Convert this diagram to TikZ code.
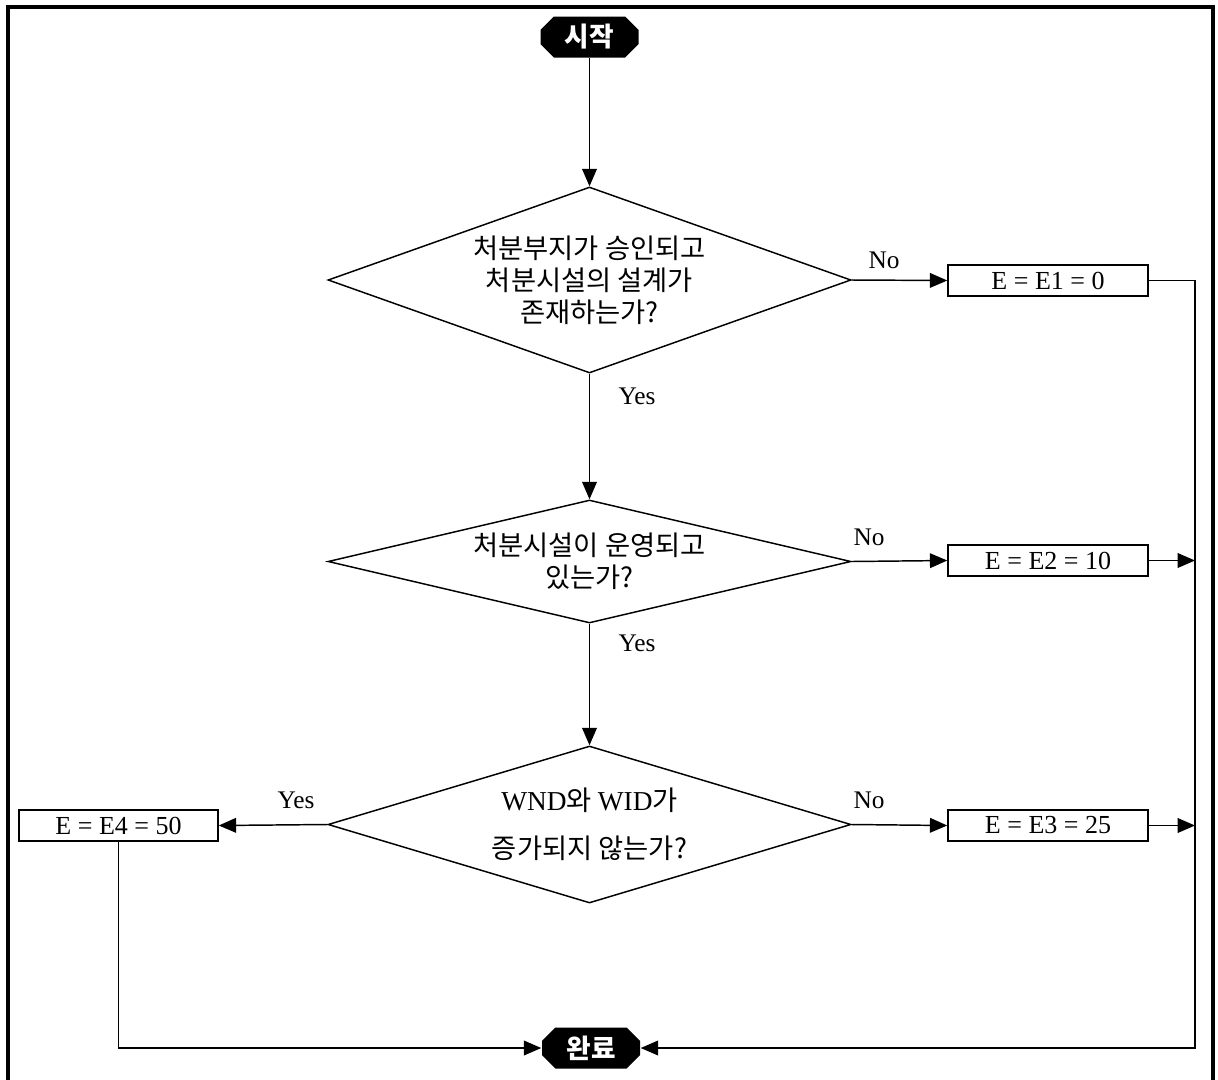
\documentclass[tikz,border=0pt]{standalone}
\usepackage{fontspec}
\setmainfont{Liberation Serif}
\newfontfamily\kr{Noto Sans CJK KR}
\usetikzlibrary{shapes.geometric,shapes.misc,arrows.meta}
\begin{document}
\begin{tikzpicture}[x=0.75pt,y=-0.75pt,
  line width=1.1pt,
  conn/.style={-{Triangle[length=13pt,width=11pt]}},
  decide/.style={diamond,draw,inner sep=0pt,minimum width=523*0.75pt,align=center,
    font=\kr\fontsize{20.5}{24}\selectfont},
  endpt/.style={chamfered rectangle,chamfered rectangle xsep=7pt,fill=black,text=white,
    font=\kr\bfseries\fontsize{20}{22}\selectfont,minimum width=98*0.75pt,minimum height=41*0.75pt,inner sep=0pt},
  valbox/.style={rectangle,draw,minimum width=200*0.75pt,minimum height=31*0.75pt,inner sep=0pt,
    font=\fontsize{19.5}{22}\selectfont},
  lbl/.style={font=\fontsize{19}{22}\selectfont,inner sep=0pt}
]
\useasboundingbox (0,0) rectangle (1218,1079);
\draw[line width=2.4pt] (8,1085) -- (8,7) -- (1213,7) -- (1213,1085);

\node[endpt] (start) at (589.5,37) {시작};
\node[decide,minimum height=186*0.75pt,aspect=2.81] (d1) at (589.5,280)
  {처분부지가 승인되고\\처분시설의 설계가\\존재하는가?};
\node[decide,minimum height=123*0.75pt,aspect=4.25] (d2) at (589.5,561.5)
  {처분시설이 운영되고\\있는가?};
\node[decide,minimum height=157*0.75pt,aspect=3.33] (d3) at (589.5,824.5)
  {{\rmfamily WND}와 {\rmfamily WID}가\\[12pt]증가되지 않는가?};

\node[valbox] (b1) at (1048,280.5) {E = E1 = 0};
\node[valbox] (b2) at (1048,560.5) {E = E2 = 10};
\node[valbox] (b3) at (1048,825.5) {E = E3 = 25};
\node[valbox,minimum width=199*0.75pt] (b4) at (118.5,825.5) {E = E4 = 50};

\node[endpt] (end) at (591,1048) {완료};

\node[lbl] (no1) at (884,260) {No};
\node[lbl] (no2) at (869,537) {No};
\node[lbl] (no3) at (869,800) {No};
\node[lbl] (yes1) at (637,396) {Yes};
\node[lbl] (yes2) at (637,643) {Yes};
\node[lbl] (yes3) at (296,800) {Yes};

\coordinate (r1) at (1195,280.5);
\coordinate (r2) at (1195,560.5);
\coordinate (r3) at (1195,825.5);
\coordinate (r4) at (1195,1048);

\draw[conn] (start.south) -- (d1.north);
\draw[conn] (d1.south) -- (d2.north);
\draw[conn] (d2.south) -- (d3.north);
\draw[conn] (d1.east) -- (b1.west);
\draw[conn] (d2.east) -- (b2.west);
\draw[conn] (d3.east) -- (b3.west);
\draw[conn] (d3.west) -- (b4.east);
\draw[conn] (b2.east) -- (r2);
\draw[conn] (b3.east) -- (r3);
\draw[conn] (b1.east) -- (r1) -- (r4) -- (end.east);
\draw[conn] (b4.south) |- (end.west);
\end{tikzpicture}
\end{document}
